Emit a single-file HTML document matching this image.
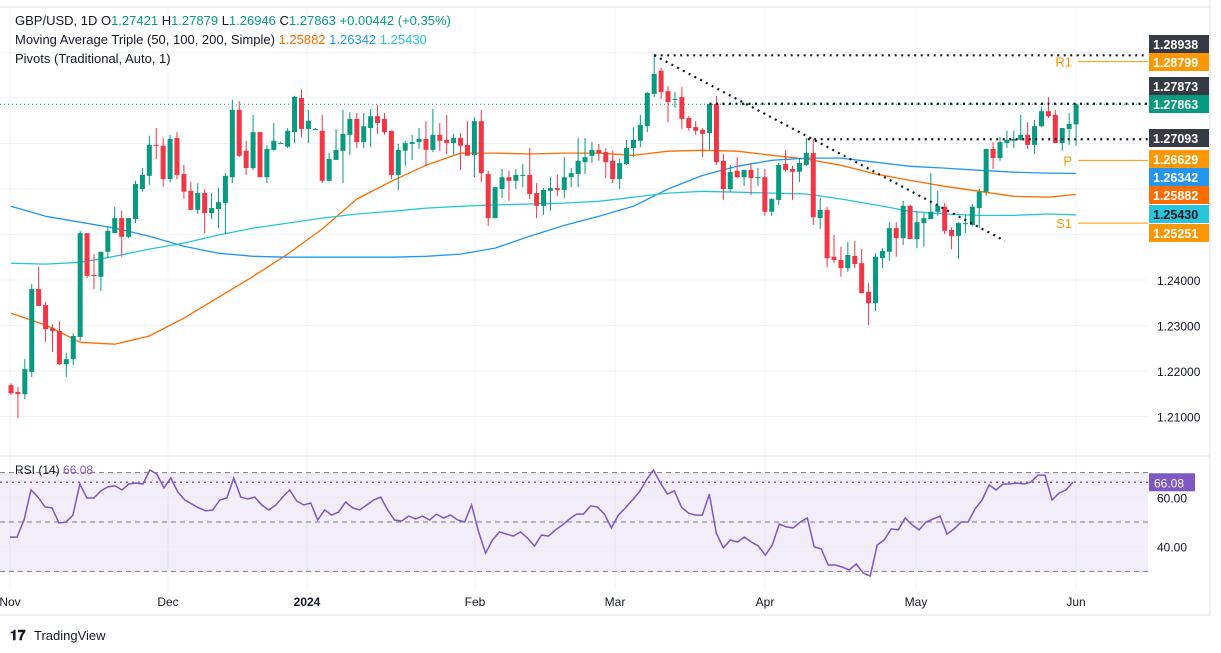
<!DOCTYPE html>
<html><head><meta charset="utf-8"><style>
body{margin:0;background:#fff;}
svg{display:block;font-family:"Liberation Sans",sans-serif;}
</style></head><body>
<svg id="chart" width="1221" height="653" viewBox="0 0 1221 653">
<g id="grid"></g>
<g id="mas"></g>
<g id="candles"></g>
<g id="overlay"></g>
<g id="rsi"></g>
<g id="axis"></g>
<g font-size="13" fill="#131722">
<text x="15" y="25">GBP/USD, 1D  O<tspan fill="#089981">1.27421</tspan>  H<tspan fill="#089981">1.27879</tspan>  L<tspan fill="#089981">1.26946</tspan>  C<tspan fill="#089981">1.27863</tspan>  <tspan fill="#089981">+0.00442 (+0.35%)</tspan></text>
<text x="15" y="44">Moving Average Triple (50, 100, 200, Simple)  <tspan fill="#ff6d00">1.25882</tspan>  <tspan fill="#2196f3">1.26342</tspan>  <tspan fill="#26c6da">1.25430</tspan></text>
<text x="15" y="63">Pivots (Traditional, Auto, 1)</text>
<text x="15" y="474" font-size="12">RSI (14)  <tspan fill="#7e57c2">66.08</tspan></text>
</g>
<g font-size="12" fill="#131722">
<text x="10" y="606" text-anchor="middle">Nov</text>
<text x="168" y="606" text-anchor="middle">Dec</text>
<text x="307" y="606" text-anchor="middle" font-weight="bold">2024</text>
<text x="475" y="606" text-anchor="middle">Feb</text>
<text x="615" y="606" text-anchor="middle">Mar</text>
<text x="765" y="606" text-anchor="middle">Apr</text>
<text x="916" y="606" text-anchor="middle">May</text>
<text x="1076" y="606" text-anchor="middle">Jun</text>
</g>
<g>
<text x="10" y="640" font-size="14" font-weight="bold" fill="#131722">𝟏𝟕</text>
<text x="34" y="640" font-size="13" fill="#131722">TradingView</text>
</g>
</svg>
<script>
const NS='http://www.w3.org/2000/svg';
const opens=[1.2169,1.2154,1.2149,1.2198,1.2380,1.2345,1.2294,1.2288,1.2215,1.2226,1.2275,1.2503,1.2411,1.2407,1.2462,1.2503,1.2536,1.2495,1.2534,1.2600,1.2629,1.2697,1.2695,1.2622,1.2712,1.2633,1.2596,1.2554,1.2591,1.2547,1.2556,1.2569,1.2626,1.2774,1.2684,1.2646,1.2725,1.2626,1.2686,1.2701,1.2693,1.2725,1.2800,1.2732,1.2732,1.2728,1.2618,1.2664,1.2684,1.2719,1.2754,1.2703,1.2734,1.2760,1.2754,1.2728,1.2631,1.2684,1.2699,1.2703,1.2710,1.2686,1.2719,1.2708,1.2701,1.2712,1.2697,1.2675,1.2749,1.2633,1.2536,1.2600,1.2626,1.2618,1.2629,1.2631,1.2591,1.2563,1.2596,1.2602,1.2598,1.2626,1.2633,1.2659,1.2673,1.2686,1.2681,1.2662,1.2622,1.2655,1.2690,1.2706,1.2738,1.2809,1.2860,1.2815,1.2796,1.2802,1.2756,1.2736,1.2730,1.2723,1.2787,1.2662,1.2600,1.2640,1.2626,1.2642,1.2626,1.2626,1.2550,1.2576,1.2655,1.2644,1.2638,1.2653,1.2679,1.2536,1.2554,1.2451,1.2444,1.2426,1.2453,1.2437,1.2374,1.2349,1.2448,1.2462,1.2514,1.2492,1.2563,1.2490,1.2525,1.2534,1.2550,1.2561,1.2510,1.2497,1.2525,1.2521,1.2558,1.2594,1.2688,1.2668,1.2701,1.2706,1.2708,1.2719,1.2697,1.2738,1.2771,1.2763,1.2701,1.2732,1.2742];
const highs=[1.2173,1.2165,1.2226,1.2391,1.2429,1.2352,1.2303,1.2310,1.2240,1.2283,1.2508,1.2503,1.2457,1.2462,1.2519,1.2561,1.2552,1.2536,1.2618,1.2646,1.2717,1.2734,1.2712,1.2719,1.2725,1.2653,1.2615,1.2613,1.2600,1.2591,1.2602,1.2635,1.2796,1.2793,1.2706,1.2763,1.2725,1.2697,1.2745,1.2704,1.2734,1.2805,1.2818,1.2774,1.2734,1.2763,1.2679,1.2732,1.2774,1.2769,1.2767,1.2767,1.2776,1.2785,1.2767,1.2728,1.2699,1.2706,1.2719,1.2734,1.2749,1.2776,1.2745,1.2763,1.2721,1.2723,1.2749,1.2758,1.2774,1.2640,1.2604,1.2644,1.2640,1.2644,1.2655,1.2690,1.2613,1.2602,1.2626,1.2631,1.2670,1.2646,1.2712,1.2712,1.2703,1.2699,1.2690,1.2684,1.2666,1.2708,1.2736,1.2763,1.2813,1.2895,1.2866,1.2826,1.2813,1.2824,1.2760,1.2749,1.2734,1.2787,1.2805,1.2677,1.2653,1.2670,1.2642,1.2657,1.2646,1.2644,1.2580,1.2657,1.2686,1.2651,1.2668,1.2712,1.2710,1.2580,1.2561,1.2499,1.2473,1.2484,1.2486,1.2468,1.2393,1.2459,1.2470,1.2527,1.2527,1.2574,1.2565,1.2552,1.2547,1.2635,1.2596,1.2569,1.2516,1.2527,1.2543,1.2567,1.2600,1.2688,1.2703,1.2714,1.2728,1.2728,1.2763,1.2747,1.2752,1.2780,1.2802,1.2774,1.2734,1.2767,1.2788];
const lows=[1.2147,1.2096,1.2138,1.2187,1.2343,1.2264,1.2242,1.2213,1.2187,1.2213,1.2266,1.2404,1.2380,1.2376,1.2448,1.2503,1.2451,1.2492,1.2525,1.2594,1.2609,1.2666,1.2605,1.2615,1.2622,1.2578,1.2554,1.2545,1.2503,1.2534,1.2514,1.2501,1.2613,1.2670,1.2631,1.2642,1.2626,1.2613,1.2684,1.2699,1.2690,1.2701,1.2714,1.2701,1.2730,1.2613,1.2618,1.2664,1.2613,1.2675,1.2690,1.2690,1.2692,1.2721,1.2719,1.2622,1.2598,1.2651,1.2664,1.2688,1.2651,1.2681,1.2684,1.2677,1.2675,1.2642,1.2673,1.2626,1.2615,1.2519,1.2536,1.2580,1.2574,1.2600,1.2604,1.2578,1.2536,1.2543,1.2552,1.2585,1.2580,1.2604,1.2604,1.2633,1.2657,1.2662,1.2624,1.2613,1.2600,1.2653,1.2670,1.2692,1.2725,1.2802,1.2798,1.2747,1.2778,1.2732,1.2728,1.2719,1.2670,1.2686,1.2653,1.2576,1.2594,1.2624,1.2607,1.2587,1.2607,1.2541,1.2541,1.2565,1.2638,1.2576,1.2615,1.2651,1.2521,1.2512,1.2428,1.2437,1.2407,1.2418,1.2426,1.2371,1.2301,1.2332,1.2426,1.2442,1.2451,1.2477,1.2490,1.2470,1.2473,1.2534,1.2541,1.2501,1.2468,1.2446,1.2503,1.2519,1.2514,1.2585,1.2644,1.2662,1.2690,1.2690,1.2706,1.2688,1.2677,1.2736,1.2756,1.2701,1.2684,1.2697,1.2695];
const closes=[1.2151,1.2149,1.2204,1.2380,1.2343,1.2292,1.2288,1.2215,1.2226,1.2277,1.2503,1.2409,1.2409,1.2462,1.2508,1.2536,1.2495,1.2536,1.2611,1.2631,1.2697,1.2695,1.2622,1.2710,1.2631,1.2594,1.2554,1.2591,1.2547,1.2558,1.2571,1.2629,1.2774,1.2673,1.2646,1.2725,1.2626,1.2688,1.2706,1.2701,1.2728,1.2803,1.2732,1.2750,1.2732,1.2618,1.2666,1.2686,1.2721,1.2754,1.2703,1.2738,1.2760,1.2745,1.2725,1.2631,1.2686,1.2701,1.2703,1.2710,1.2686,1.2719,1.2706,1.2701,1.2712,1.2695,1.2673,1.2749,1.2635,1.2536,1.2604,1.2626,1.2618,1.2631,1.2631,1.2589,1.2563,1.2598,1.2602,1.2598,1.2626,1.2635,1.2662,1.2670,1.2686,1.2679,1.2659,1.2622,1.2657,1.2690,1.2708,1.2741,1.2811,1.2853,1.2813,1.2791,1.2798,1.2754,1.2734,1.2728,1.2721,1.2787,1.2659,1.2600,1.2637,1.2626,1.2642,1.2624,1.2626,1.2550,1.2578,1.2653,1.2642,1.2638,1.2657,1.2679,1.2538,1.2554,1.2448,1.2444,1.2426,1.2455,1.2435,1.2371,1.2349,1.2451,1.2464,1.2514,1.2492,1.2563,1.2490,1.2527,1.2536,1.2550,1.2563,1.2508,1.2497,1.2525,1.2525,1.2561,1.2594,1.2688,1.2668,1.2703,1.2708,1.2710,1.2719,1.2697,1.2738,1.2771,1.2760,1.2701,1.2734,1.2743,1.27863];
const maIdx=[0,5,10,15,20,25,30,35,40,45,50,55,60,65,70,75,80,85,90,95,100,105,110,115,120,125,130,135,140,145,150,154];
const ma50=[1.2327,1.2301,1.2263,1.2259,1.2277,1.2316,1.2362,1.2408,1.2457,1.2512,1.2578,1.2617,1.2652,1.2679,1.2679,1.2677,1.2679,1.2679,1.2674,1.2683,1.2685,1.2683,1.2674,1.2666,1.2652,1.2633,1.2619,1.2606,1.2595,1.2584,1.2582,1.2588];
const ma100=[1.2562,1.2540,1.2527,1.2514,1.2496,1.2474,1.2459,1.2452,1.2450,1.2450,1.2450,1.2450,1.2452,1.2457,1.2470,1.2496,1.2520,1.2540,1.2562,1.2600,1.2630,1.2650,1.2663,1.2668,1.2668,1.2659,1.2650,1.2646,1.2641,1.2637,1.2635,1.2634];
const ma200=[1.2437,1.2435,1.2439,1.2452,1.2468,1.2481,1.2499,1.2514,1.2525,1.2536,1.2545,1.2551,1.2558,1.2562,1.2565,1.2567,1.2569,1.2573,1.2582,1.2591,1.2595,1.2593,1.2591,1.2589,1.2578,1.2565,1.2551,1.2545,1.2542,1.2542,1.2545,1.2543];
const rsiVals=[43.9,43.9,50.8,63.0,60.1,56.1,55.7,49.6,50.0,52.8,65.4,59.7,59.7,62.6,64.2,64.6,63.0,65.4,65.8,65.4,71.1,69.4,63.8,67.8,62.2,58.9,57.3,55.7,54.5,54.9,58.9,59.7,67.8,60.1,59.3,60.1,56.9,54.9,56.9,60.1,63.0,58.5,56.9,57.7,50.8,54.9,52.8,54.1,58.1,55.7,54.9,56.9,58.9,60.1,54.9,50.8,50.4,52.4,51.2,52.4,50.8,53.2,51.6,52.8,50.8,50.0,56.9,46.0,37.4,42.7,46.0,45.1,44.3,46.0,43.5,40.3,44.7,44.3,46.8,48.8,51.2,53.2,53.2,56.5,56.1,53.2,47.6,52.8,55.7,58.9,62.2,67.0,71.1,65.8,61.3,62.6,56.1,53.6,52.8,52.8,61.3,45.5,39.5,42.7,41.9,43.9,41.9,40.3,36.6,40.7,49.2,48.0,47.6,50.0,51.6,39.9,39.1,32.6,32.6,31.8,30.6,33.0,29.3,28.1,40.7,42.7,47.2,46.8,51.6,48.8,46.8,50.0,51.2,52.4,45.1,47.2,50.0,50.0,55.3,58.9,65.0,63.0,65.4,65.4,65.8,65.4,66.2,69.0,69.0,58.9,61.7,63.0,66.08];
const gridPrices=[1.21,1.22,1.23,1.24,1.25,1.26,1.27,1.28,1.29];
const axisLabels=['1.21000','1.22000','1.23000','1.24000'];
const axisLabelPrices=[1.21,1.22,1.23,1.24];
const monthX=[10,168,307,475,615,765,916,1076];

const py=p=>280-(p-1.24)*4550;
const xi=i=>11+i*6.916;
const ry=v=>522-(v-50)*2.47;
const rx=i=>10+i*(1063/(rsiVals.length-1));
function el(tag,attrs,parent){const e=document.createElementNS(NS,tag);for(const k in attrs)e.setAttribute(k,attrs[k]);parent.appendChild(e);return e;}

const grid=document.getElementById('grid');
gridPrices.forEach(p=>{const l=el('line',{x1:0,x2:1148,y1:py(p),y2:py(p),stroke:'#f0f3fa'},grid);

});
monthX.forEach(x=>{const l=el('line',{x1:x,x2:x,y1:8,y2:590,stroke:'#f0f3fa'},grid);

});
el('line',{x1:0,x2:1210,y1:456,y2:456,stroke:'#e0e3eb'},grid);
el('line',{x1:1210,x2:1210,y1:0,y2:615,stroke:'#e0e3eb'},grid);
el('line',{x1:0,x2:1210,y1:615,y2:615,stroke:'#e0e3eb'},grid);
el('line',{x1:0,x2:1210,y1:7,y2:7,stroke:'#e0e3eb'},grid);

const mas=document.getElementById('mas');
[[ma50,'#ff6d00','ma-50-line'],[ma100,'#2196f3','ma-100-line'],[ma200,'#26c6da','ma-200-line']].forEach(([arr,c,n])=>{
 const d=arr.map((v,k)=>(k?'L':'M')+xi(maIdx[k]).toFixed(1)+','+py(v).toFixed(1)).join(' ');
 const p=el('path',{d:d,fill:'none',stroke:c,'stroke-width':1.3,'stroke-linejoin':'round'},mas);
 
 
});

const cg=document.getElementById('candles');
opens.forEach((o,i)=>{
 const c=closes[i],up=c>=o,col=up?'#089981':'#f23645',x=xi(i);
 const g=el('g',{},cg);
 
 
 el('line',{x1:x,x2:x,y1:py(highs[i]),y2:py(lows[i]),stroke:col,'stroke-width':1},g);
 const top=py(Math.max(o,c)),h=Math.max(1,py(Math.min(o,c))-top);
 el('rect',{x:x-2.5,y:top,width:5,height:h,fill:col},g);
});

const ov=document.getElementById('overlay');
function dl(x1,y1,x2,y2,col,name,dash){const l=el('line',{x1,y1,x2,y2,stroke:col,'stroke-width':dash?1:2.2,'stroke-dasharray':dash||'2 4.5'},ov);

}
dl(0,py(1.27863),1148,py(1.27863),'#089981','last-price-line','1 3');
dl(xi(93),py(1.28938),1148,py(1.28938),'#131722','resistance-high-line');
dl(xi(93),py(1.28938),xi(143.7),py(1.2486),'#131722','downtrend-line');
dl(xi(101),py(1.27873),1148,py(1.27873),'#131722','resistance-line');
dl(xi(115.2),py(1.27093),1148,py(1.27093),'#131722','support-line');
[[1.28799,'R1'],[1.26629,'P'],[1.25251,'S1']].forEach(([p,t])=>{
 const l=el('line',{x1:1078,x2:1148,y1:py(p),y2:py(p),stroke:'#ff9800','stroke-width':1},ov);
 
 
 const tx=el('text',{x:1072,y:py(p)+5,'text-anchor':'end','font-size':13,fill:'#ff9800'},ov);tx.textContent=t;
 
 
});

const rg=document.getElementById('rsi');
el('rect',{x:0,y:ry(70),width:1148,height:ry(30)-ry(70),fill:'rgba(126,87,194,0.1)'},rg);
[70,50,30].forEach(v=>{const l=el('line',{x1:0,x2:1148,y1:ry(v),y2:ry(v),stroke:'#787b86','stroke-dasharray':'5 4'},rg);

});
[60,40].forEach(v=>el('line',{x1:0,x2:1148,y1:ry(v),y2:ry(v),stroke:'#ece9f5'},rg));
const rl=el('line',{x1:0,x2:1148,y1:ry(66.08),y2:ry(66.08),stroke:'#7e57c2','stroke-dasharray':'2 4','stroke-width':1.5},rg);


const rp=el('path',{d:rsiVals.map((v,i)=>(i?'L':'M')+rx(i).toFixed(1)+','+ry(v).toFixed(1)).join(' '),fill:'none',stroke:'#7e57c2','stroke-width':1.5},rg);


[[60,'60.00'],[40,'40.00']].forEach(([v,t])=>{const tx=el('text',{x:1157,y:ry(v)+5,'font-size':12,fill:'#131722'},rg);tx.textContent=t;

});
el('rect',{x:1149,y:ry(66.08)-9,width:46,height:18,fill:'#7e57c2'},rg);
const rt=el('text',{x:1154,y:ry(66.08)+5,'font-size':12,fill:'#fff'},rg);rt.textContent='66.08';



const ax=document.getElementById('axis');
axisLabels.forEach((t,k)=>{const tx=el('text',{x:1157,y:py(axisLabelPrices[k])+5,'font-size':12,fill:'#131722'},ax);tx.textContent=t;

});
[[44,'1.28938','#363a45','#fff'],[62,'1.28799','#ff9800','#fff'],[86,'1.27873','#363a45','#fff'],[104,'1.27863','#089981','#fff'],[138,'1.27093','#363a45','#fff'],[159,'1.26629','#ff9800','#fff'],[177,'1.26342','#2196f3','#fff'],[195,'1.25882','#ff6d00','#fff'],[214,'1.25430','#26c6da','#131722'],[233,'1.25251','#ff9800','#fff']].forEach(([y,t,bg,fg])=>{
 const g=el('g',{},ax);
 
 
 el('rect',{x:1149,y:y-9,width:60,height:18,fill:bg},g);
 const tx=el('text',{x:1153,y:y+5,'font-size':12.5,'font-weight':'bold',fill:fg},g);tx.textContent=t;
});
</script>
</body></html>
